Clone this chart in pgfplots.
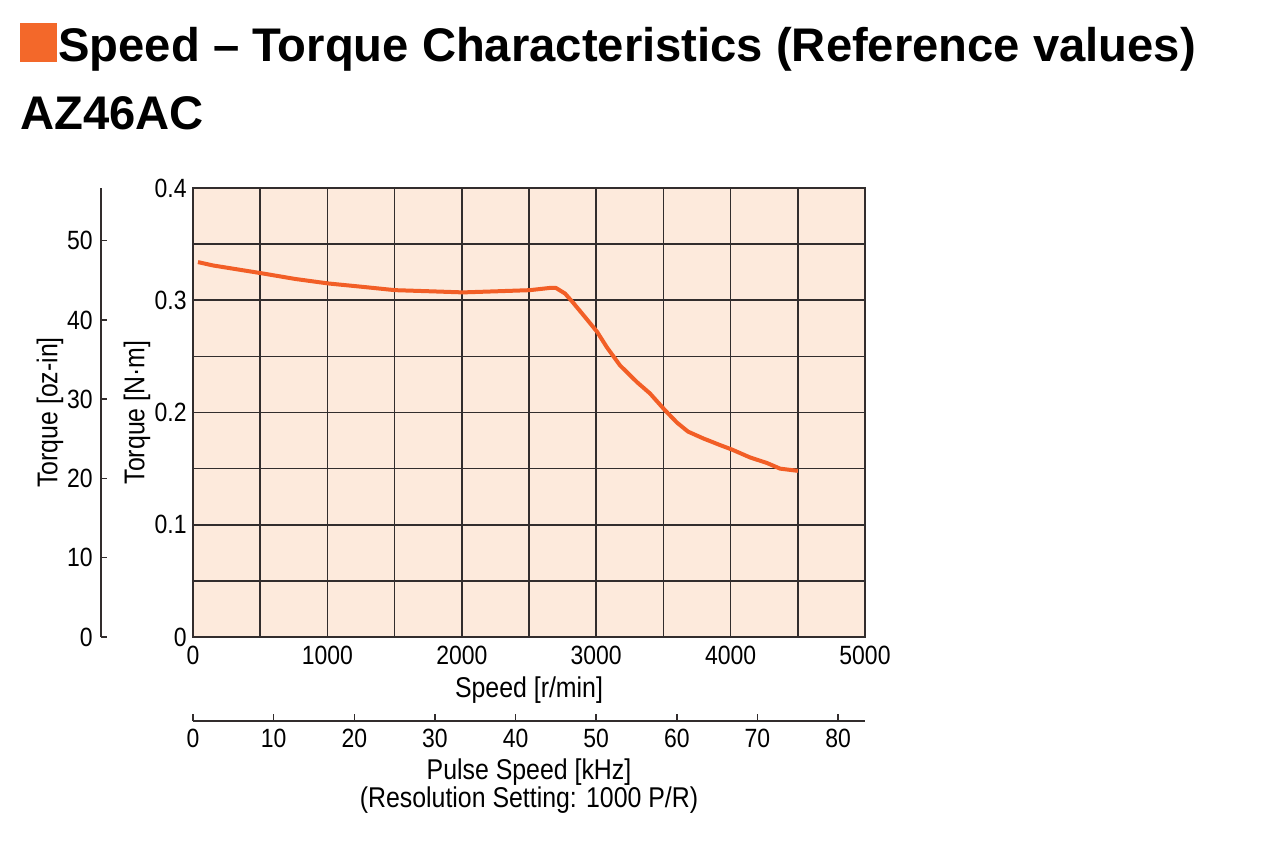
\documentclass[border=0pt]{standalone}
\usepackage{fontspec}
\setmainfont[FakeStretch=0.87]{Liberation Sans}
\newfontfamily\titlefont{Liberation Sans}
\usepackage{pgfplots}
\pgfplotsset{compat=1.18}

\definecolor{curve}{RGB}{242,94,38}
\definecolor{bgfill}{RGB}{253,234,220}
\definecolor{gridc}{RGB}{50,45,45}
\definecolor{sq}{RGB}{243,104,42}

\pgfplotsset{
  base/.style={
    scale only axis,
    width=336pt, height=224.5pt,
    /pgf/number format/assume math mode=true,
    /pgf/number format/1000 sep={},
    tick label style={font=\fontsize{13.2}{14}\selectfont, inner sep=0pt},
    label style={font=\fontsize{14.3}{14}\selectfont},
  },
}

\begin{document}
\begin{tikzpicture}
\useasboundingbox (0,0) rectangle (640pt,-426.5pt);

% heading
\fill[sq] (10pt,-11.5pt) rectangle (28.5pt,-31pt);
\node[anchor=base west, inner sep=0pt, font=\titlefont\bfseries\fontsize{23.6}{28}\selectfont]
  at (29pt,-30.5pt) {Speed – Torque Characteristics (Reference values)};
\node[anchor=base west, inner sep=0pt, font=\titlefont\bfseries\fontsize{23.6}{28}\selectfont]
  at (10pt,-64.5pt) {AZ46AC};

% main plot: speed vs torque in N.m
\begin{axis}[base,
  at={(96.5pt,-318.5pt)}, anchor=south west,
  xmin=0, xmax=5000, ymin=0, ymax=0.4,
  xtick={0,1000,2000,3000,4000,5000},
  minor xtick={500,1500,2500,3500,4500},
  ytick={0,0.1,0.2,0.3,0.4},
  minor ytick={0.05,0.15,0.25,0.35},
  grid=both,
  major grid style={gridc, line width=0.85pt},
  minor grid style={gridc, line width=0.85pt},
  major tick length=0pt, minor tick length=0pt,
  axis line style={gridc, line width=0.9pt},
  axis background/.style={fill=bgfill},
  yticklabel style={anchor=east, xshift=-3pt,
    /pgf/number format/fixed, /pgf/number format/precision=1},
  xticklabel style={anchor=center, yshift=-9pt},
  xlabel={Speed [r/min]},
  xlabel style={at={(axis description cs:0.5,0)}, anchor=center, yshift=-26.5pt},
  ylabel={Torque [N·m]},
  ylabel style={at={(axis description cs:-0.0833,0.5)}, anchor=center},
]
\addplot[curve, line width=2pt, line join=round, no marks] coordinates {
  (37,0.334) (149,0.331) (513,0.324) (759,0.319) (1004,0.315)
  (1257,0.312) (1503,0.309) (1763,0.308) (2009,0.307) (2262,0.308)
  (2507,0.309) (2656,0.311) (2700,0.311) (2768,0.306) (2827,0.298)
  (2917,0.285) (3006,0.272) (3080,0.258) (3177,0.242) (3304,0.227)
  (3400,0.217) (3512,0.202) (3601,0.191) (3683,0.183) (3795,0.177)
  (3921,0.171) (4010,0.167) (4144,0.160) (4271,0.155) (4368,0.150)
  (4501,0.148)
};
\end{axis}

% secondary torque scale in oz-in
\begin{axis}[base,
  at={(50.5pt,-318.5pt)}, anchor=south west,
  xmin=0, xmax=1, ymin=0, ymax=56.64,
  hide x axis, axis y line*=left,
  ytick={0,10,20,30,40,50},
  tick align=inside, major tick length=3pt,
  tick style={gridc, line width=0.75pt},
  axis line style={gridc, line width=0.75pt},
  yticklabel style={anchor=east, xshift=-4pt},
  ylabel={Torque [oz-in]},
  ylabel style={at={(axis description cs:-0.0759,0.5)}, anchor=center},
]
\end{axis}

% pulse speed scale
\begin{axis}[base, height=10pt,
  at={(96.5pt,-360.5pt)}, anchor=south west,
  xmin=0, xmax=83.333, ymin=0, ymax=1,
  hide y axis, axis x line*=bottom,
  xtick={0,10,20,30,40,50,60,70,80},
  tick align=inside, major tick length=3.5pt,
  tick style={gridc, line width=0.75pt},
  axis line style={gridc, line width=0.75pt},
  xticklabel style={anchor=center, yshift=-8.5pt},
  xlabel={Pulse Speed [kHz]\\(Resolution Setting: 1000 P/R)},
  xlabel style={align=center, at={(axis description cs:0.5,0)}, anchor=center, yshift=-32.5pt},
]
\end{axis}
\end{tikzpicture}
\end{document}
